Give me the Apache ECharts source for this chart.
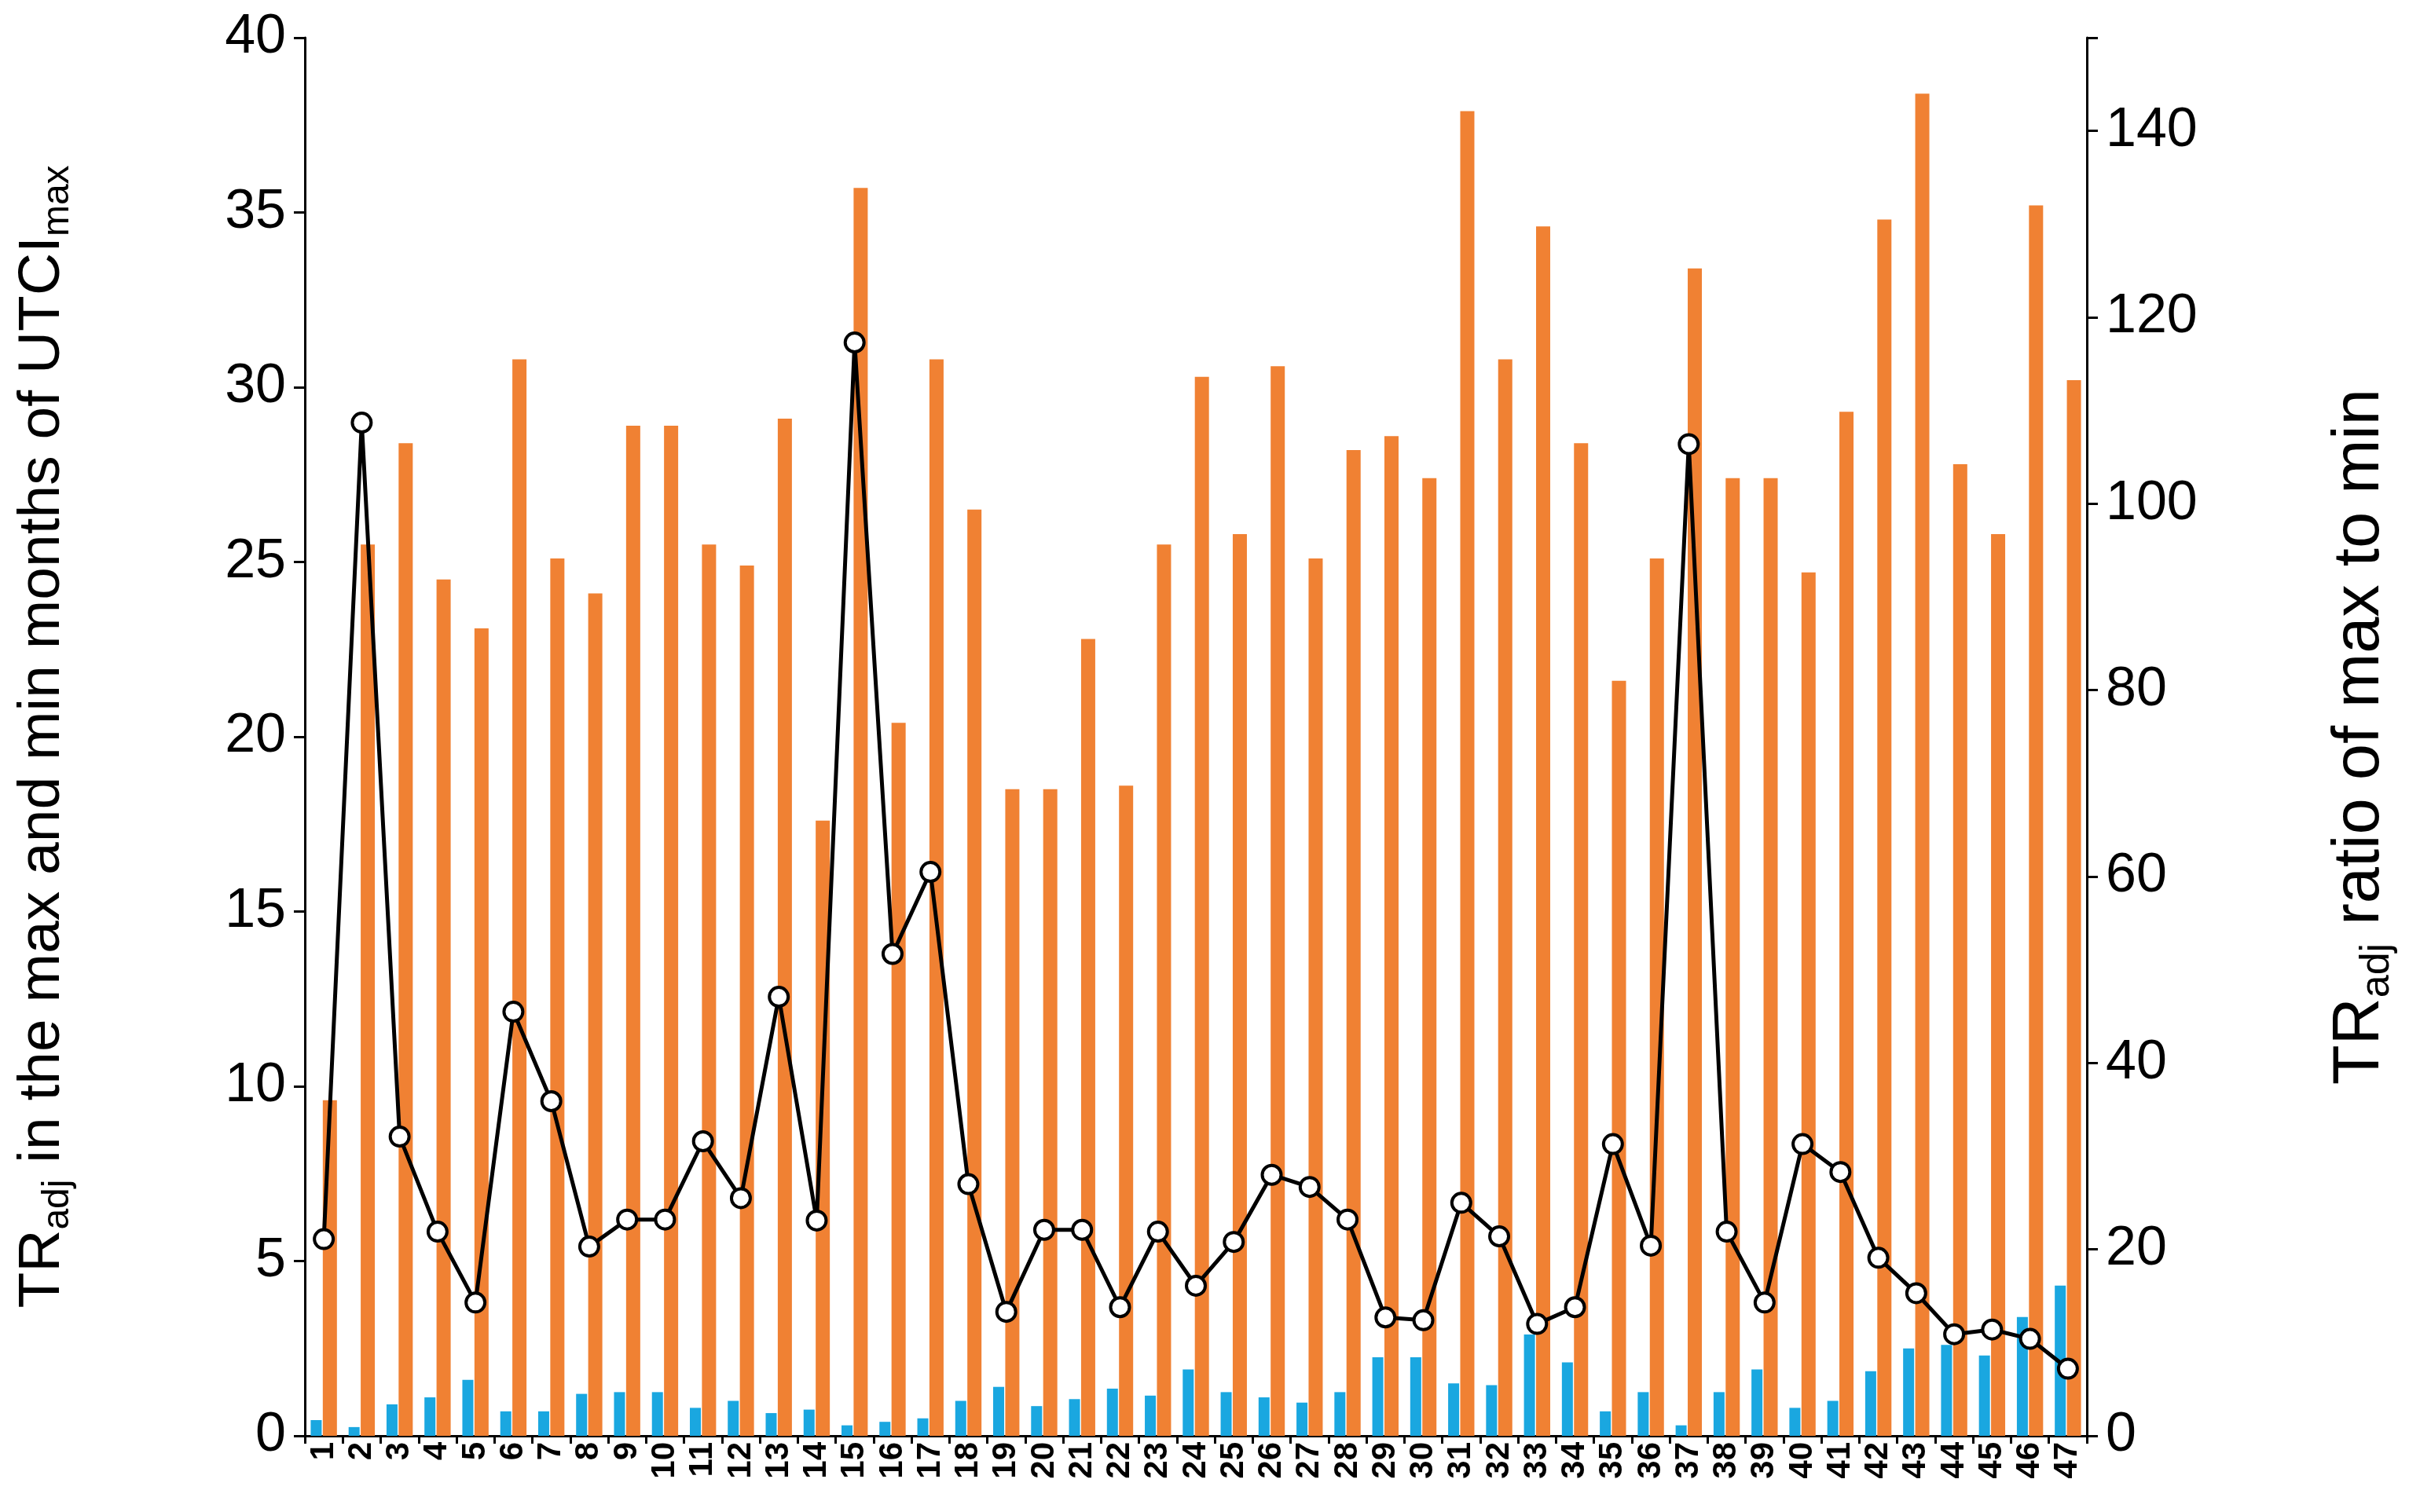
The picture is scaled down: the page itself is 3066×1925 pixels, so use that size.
<!DOCTYPE html>
<html><head><meta charset="utf-8">
<script src="https://cdn.jsdelivr.net/npm/echarts@6/dist/echarts.min.js"></script>
<style>html,body{margin:0;padding:0;background:#fff}#c{width:3066px;height:1925px}</style>
</head><body><div id="c"></div>
<script>
const categories = Array.from({length:47},(_,i)=>String(i+1));
const minMonth = [0.45,0.25,0.9,1.1,1.6,0.7,0.7,1.2,1.25,1.25,0.8,1.0,0.65,0.75,0.3,0.4,0.5,1.0,1.4,0.85,1.05,1.35,1.15,1.9,1.25,1.1,0.95,1.25,2.25,2.25,1.5,1.45,2.9,2.1,0.7,1.25,0.3,1.25,1.9,0.8,1.0,1.85,2.5,2.6,2.3,3.4,4.3];
const maxMonth = [9.6,25.5,28.4,24.5,23.1,30.8,25.1,24.1,28.9,28.9,25.5,24.9,29.1,17.6,35.7,20.4,30.8,26.5,18.5,18.5,22.8,18.6,25.5,30.3,25.8,30.6,25.1,28.2,28.6,27.4,37.9,30.8,34.6,28.4,21.6,25.1,33.4,27.4,27.4,24.7,29.3,34.8,38.4,27.8,25.8,35.2,30.2];
const ratio = [21.1,108.7,32.1,21.9,14.3,45.5,35.9,20.3,23.2,23.2,31.6,25.5,47.1,23.1,117.3,51.7,60.5,27.0,13.3,22.1,22.1,13.8,21.9,16.1,20.8,28.0,26.7,23.2,12.7,12.4,25.0,21.4,12.0,13.8,31.3,20.4,106.4,21.9,14.3,31.3,28.3,19.1,15.3,10.9,11.4,10.4,7.2];
const F = 'Arial, "Liberation Sans", sans-serif';
const axisLine = {show:true, lineStyle:{color:'#000', width:3}};
const chart = echarts.init(document.getElementById('c'));
chart.setOption({
  animation:false,
  grid:{left:388, right:410, top:48, bottom:97},
  xAxis:{type:'category', data:categories, axisLine, axisTick:{show:true, length:10, lineStyle:{width:3,color:'#000'}},
    axisLabel:{rotate:90, fontFamily:F, fontSize:42, fontWeight:'bold', color:'#000', margin:8, interval:0}},
  yAxis:[
    {type:'value', min:0, max:40, interval:5, axisLine, axisTick:{show:true, length:14, lineStyle:{width:3,color:'#000'}}, splitLine:{show:false},
     axisLabel:{fontFamily:F, fontSize:70, color:'#000', margin:24},
     name:'TR{s|adj} in the max and min months of UTCI{s|max}', nameLocation:'middle', nameRotate:90, nameGap:290,
     nameTextStyle:{fontFamily:F, fontSize:75, color:'#000', rich:{s:{fontFamily:F, fontSize:48, verticalAlign:'bottom', padding:[40,0,0,0]}}}},
    {type:'value', min:0, max:150, interval:20, axisLine, axisTick:{show:true, length:14, lineStyle:{width:3,color:'#000'}}, splitLine:{show:false},
     axisLabel:{fontFamily:F, fontSize:70, color:'#000', margin:24, formatter:v=>v>140?'':v},
     name:'TR{s|adj} ratio of max to min', nameLocation:'middle', nameRotate:90, nameGap:300,
     nameTextStyle:{fontFamily:F, fontSize:83, color:'#000', rich:{s:{fontFamily:F, fontSize:52, verticalAlign:'bottom', padding:[44,0,0,0]}}}}
  ],
  series:[
    {type:'bar', data:minMonth, barWidth:14, barGap:'10%', itemStyle:{color:'#1aa7e0'}},
    {type:'bar', data:maxMonth, barWidth:18, itemStyle:{color:'#f08133'}},
    {type:'line', yAxisIndex:1, data:ratio, symbol:'circle', symbolSize:24, z:5,
     lineStyle:{color:'#000', width:5}, itemStyle:{color:'#fff', borderColor:'#000', borderWidth:4}}
  ]
});
</script></body></html>
